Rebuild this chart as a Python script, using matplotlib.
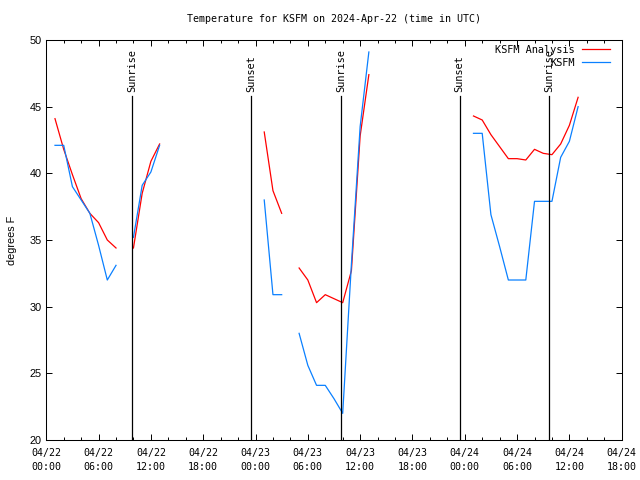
#!/usr/bin/env python3
"""
KSFM temperature chart (analysis vs. observations, UTC)
"""
from datetime import datetime, timedelta
import numpy as np
import matplotlib
matplotlib.use('Agg')
import matplotlib.pyplot as plt
import matplotlib.dates as mdates

plt.rcParams['font.family'] = ['DejaVu Sans Mono']
plt.rcParams['font.size'] = 7.2

# --- data -------------------------------------------------------------------
T0 = datetime(2024, 4, 22, 0, 0)
T_END_HOURS = 66

# hours since 2024-04-22 00 UTC (nan rows break the lines)
hours = [1, 2, 3, 4, 5, 6, 7, 8, 9,
         10, 11, 12, 13, 14,
         25, 26, 27, 28,
         29, 30, 31, 32, 33, 34, 35, 36, 37, 38,
         49, 50, 51, 52, 53, 54, 55, 56, 57, 58, 59, 60, 61]

nan = np.nan
analysis_f = [44.1, 41.8, 39.9, 38.1, 37.0, 36.3, 35.0, 34.4, nan,
              34.4, 38.5, 40.9, 42.2, nan,
              43.1, 38.7, 37.0, nan,
              32.9, 32.0, 30.3, 30.9, 30.6, 30.3, 32.7, 42.8, 47.4, nan,
              44.3, 44.0, 42.9, 42.0, 41.1, 41.1, 41.0, 41.8, 41.5, 41.4, 42.2, 43.6, 45.7]

ksfm_f = [42.1, 42.1, 39.0, 38.0, 37.0, 34.6, 32.0, 33.1, nan,
          35.2, 39.1, 40.1, 42.1, nan,
          38.0, 30.9, 30.9, nan,
          28.0, 25.6, 24.1, 24.1, 23.1, 22.0, 33.2, 43.5, 49.1, nan,
          43.0, 43.0, 36.9, 34.5, 32.0, 32.0, 32.0, 37.9, 37.9, 37.9, 41.2, 42.4, 45.0]

event_times = ['2024-04-22 09:53', '2024-04-22 23:30', '2024-04-23 09:48',
               '2024-04-23 23:24', '2024-04-24 09:42']
event_labels = ['Sunrise', 'Sunset', 'Sunrise', 'Sunset', 'Sunrise']

Y_MIN, Y_MAX = 20, 50
LINE_TOP = 45.8   # sun lines stop below the label


def create_chart():
    fig = plt.figure(figsize=(6.4, 4.8), dpi=100)
    ax = fig.add_axes([0.0723, 0.0833, 0.8991, 0.8334])

    times = [T0 + timedelta(hours=h) for h in hours]
    ax.plot(times, analysis_f, color='#ff0000', linewidth=0.9, label='KSFM Analysis')
    ax.plot(times, ksfm_f, color='#0a80ff', linewidth=0.9, label='KSFM')

    # sunrise / sunset markers
    for ts, lab in zip(event_times, event_labels):
        t = datetime.strptime(ts, '%Y-%m-%d %H:%M')
        ax.plot([t, t], [Y_MIN, LINE_TOP], color='black', linewidth=0.9)
        ax.text(t, 46.1, lab, rotation=90, ha='center', va='bottom', fontsize=7.4)

    ax.set_xlim(T0, T0 + timedelta(hours=T_END_HOURS))
    ax.set_ylim(Y_MIN, Y_MAX)

    ax.xaxis.set_major_locator(mdates.HourLocator(byhour=range(0, 24, 6)))
    ax.xaxis.set_minor_locator(mdates.HourLocator(byhour=range(0, 24, 2)))
    ax.xaxis.set_major_formatter(mdates.DateFormatter('%m/%d\n%H:%M'))
    ax.set_yticks(range(Y_MIN, Y_MAX + 1, 5))

    ax.tick_params(which='both', direction='in', top=True, right=True, width=0.7)
    ax.tick_params(which='major', length=4.5)
    ax.tick_params(which='minor', length=2.2)
    ax.tick_params(axis='x', pad=6)
    for lab in ax.get_xticklabels():
        lab.set_linespacing(1.45)
    for lab in ax.get_yticklabels():
        lab.set_family(['Liberation Sans'])
        lab.set_fontsize(7.8)
    for sp in ax.spines.values():
        sp.set_linewidth(0.75)

    ax.set_ylabel('degrees F', family=['Liberation Sans'], fontsize=7.8, labelpad=9)
    ax.set_title('Temperature for KSFM on 2024-Apr-22 (time in UTC)', fontsize=7.2, pad=13)

    # gnuplot-style key: text right-justified, sample line on the right
    ax.legend(loc='upper right', bbox_to_anchor=(0.9866, 0.998), frameon=False,
              markerfirst=False, fontsize=7.4, handlelength=2.7, handletextpad=0.7,
              labelspacing=0.3, borderaxespad=0.0)

    fig.savefig('out.png', dpi=100)
    plt.close(fig)


def main():
    create_chart()


if __name__ == '__main__':
    main()
